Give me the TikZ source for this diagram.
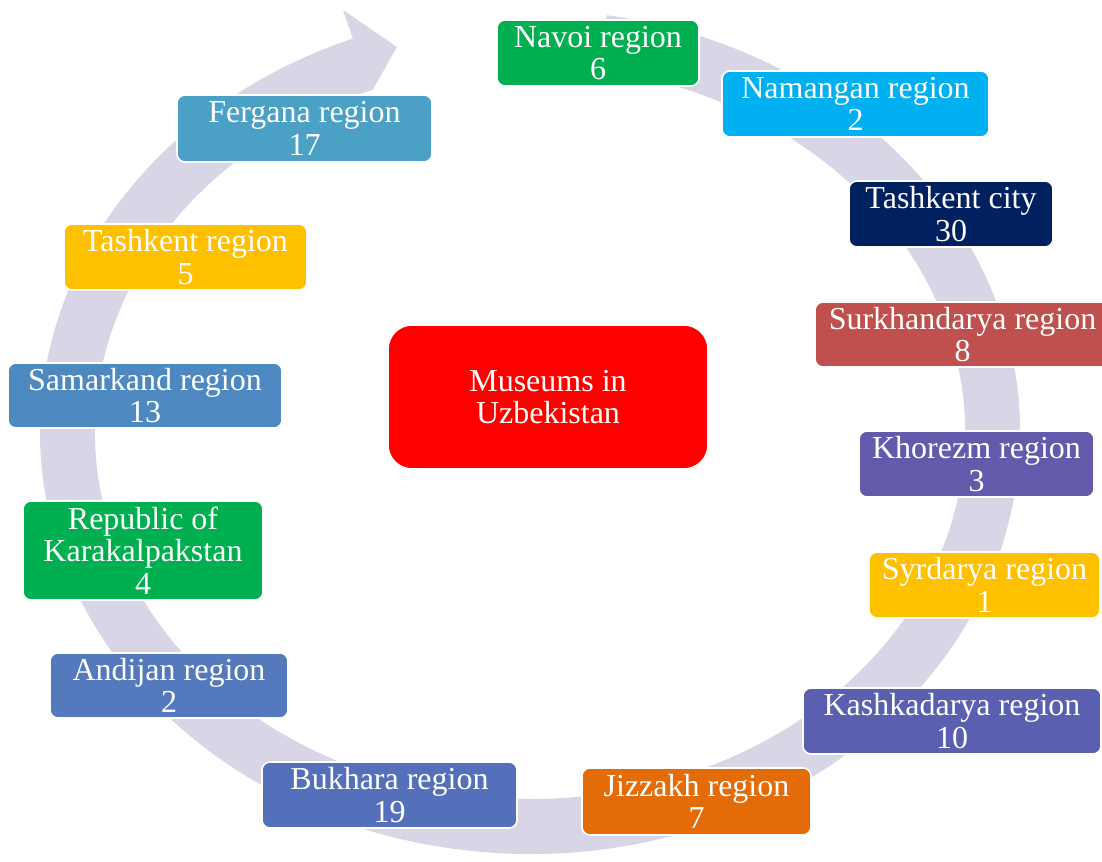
\documentclass[tikz,border=0pt]{standalone}
\usepackage{fontspec}
\setmainfont{Liberation Serif}
\definecolor{ringc}{HTML}{D8D6E6}
\definecolor{cgreen}{HTML}{00B050}
\definecolor{clblue}{HTML}{00B0F0}
\definecolor{cnavy}{HTML}{002060}
\definecolor{cbrick}{HTML}{C0504D}
\definecolor{cpurple}{HTML}{645AAB}
\definecolor{cgold}{HTML}{FFC000}
\definecolor{cslate}{HTML}{5A5FB0}
\definecolor{corange}{HTML}{E36C09}
\definecolor{cbukh}{HTML}{5470BA}
\definecolor{cand}{HTML}{5479BC}
\definecolor{csam}{HTML}{4E88C0}
\definecolor{cfer}{HTML}{4BA0C6}
\definecolor{cred}{HTML}{FF0000}
\tikzset{
  box/.style={rectangle, rounded corners=6pt, draw=white, line width=1.2pt,
    text=white, align=center, inner sep=0pt,
    font=\fontsize{24}{24.5}\selectfont},
  bx/.style 2 args={minimum width=#1*0.75pt, minimum height=#2*0.75pt},
}
\begin{document}
\begin{tikzpicture}[x=0.75pt,y=0.75pt]
\useasboundingbox (0,0) rectangle (1102,861);
% ring arrow
\fill[ringc] (606.7,845.8) arc[start angle=81, end angle=-248.8, x radius=490, y radius=422]
  -- (343,851) -- (397,814) -- (372.7,771.2)
  arc[start angle=-248.8, end angle=81, x radius=435, y radius=367] -- cycle;
% nodes
\node[box, bx={202}{66}, fill=cgreen] (navoi) at (598,808) {Navoi region\\6};
\node[box, bx={267}{66}, fill=clblue] (namangan) at (855.5,757) {Namangan region\\2};
\node[box, bx={204}{66}, fill=cnavy] (tashcity) at (951,647) {Tashkent city\\30};
\node[box, bx={295}{65}, fill=cbrick] (surkh) at (962.5,526.5) {Surkhandarya region\\8};
\node[box, bx={235}{66}, fill=cpurple] (khorezm) at (976.5,397) {Khorezm region\\3};
\node[box, bx={231}{66}, fill=cgold] (syr) at (984.5,276) {Syrdarya region\\1};
\node[box, bx={298}{66}, fill=cslate] (kash) at (952,140) {Kashkadarya region\\10};
\node[box, bx={229}{67}, fill=corange] (jizz) at (696.5,59.5) {Jizzakh region\\7};
\node[box, bx={255}{66}, fill=cbukh] (bukh) at (389.5,66) {Bukhara region\\19};
\node[box, bx={238}{65}, fill=cand] (andijan) at (169,175.5) {Andijan region\\2};
\node[box, bx={240}{99}, fill=cgreen] (kara) at (143,310.5) {Republic of\\Karakalpakstan\\4};
\node[box, bx={274}{65}, fill=csam] (samar) at (145,465.5) {Samarkand region\\13};
\node[box, bx={243}{66}, fill=cgold] (tashreg) at (185.5,604) {Tashkent region\\5};
\node[box, bx={255}{67}, fill=cfer] (fergana) at (304.5,732.5) {Fergana region\\17};
\node[box, bx={320}{144}, fill=cred, rounded corners=18pt] (center) at (548,464) {Museums in\\Uzbekistan};
\end{tikzpicture}
\end{document}
